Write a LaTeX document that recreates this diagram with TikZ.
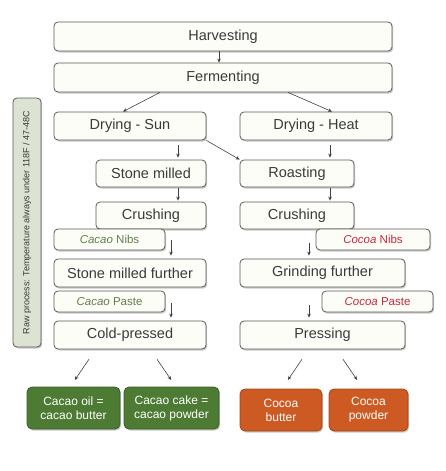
\documentclass[tikz,border=0pt]{standalone}
\usepackage{fontspec}
\setmainfont{Liberation Sans}
\usetikzlibrary{shadows,arrows.meta}
\definecolor{boxline}{HTML}{5A5A55}
\definecolor{boxfill}{HTML}{FDFDF8}
\definecolor{txt}{HTML}{3A3A3A}
\definecolor{grn}{HTML}{4E7B33}
\definecolor{grnline}{HTML}{3B5E27}
\definecolor{org}{HTML}{CC5A22}
\definecolor{orgline}{HTML}{A3461A}
\definecolor{sidefill}{HTML}{DDE3D3}
\definecolor{nibgreen}{HTML}{5E8048}
\definecolor{nibred}{HTML}{C8283A}
\tikzset{
  shad/.style={drop shadow={shadow xshift=1.2pt,shadow yshift=-1.5pt,opacity=0.35,fill=black!60}},
  stepbox/.style={draw=boxline,fill=boxfill,line width=0.8pt,rounded corners=4pt,shad,
    text=txt,font=\fontsize{14.5}{16}\selectfont,inner sep=0pt,align=center},
  labbox/.style={draw=boxline,fill=boxfill,line width=0.8pt,rounded corners=4pt,shad,
    font=\fontsize{11.5}{13}\selectfont,inner sep=0pt,align=center},
  grnbox/.style={draw=grnline,fill=grn,line width=0.8pt,rounded corners=5pt,shad,
    text=white,font=\fontsize{12}{14}\selectfont,inner sep=0pt,align=center},
  orgbox/.style={draw=orgline,fill=org,line width=0.8pt,rounded corners=5pt,shad,
    text=white,font=\fontsize{12}{14}\selectfont,inner sep=0pt,align=center},
  arr/.style={draw=black!75,line width=0.6pt,-{Stealth[length=4pt,width=3.5pt]}},
}
\begin{document}
\begin{tikzpicture}[x=1pt,y=1pt]
\useasboundingbox (0,0) rectangle (445,-471);
% side label
\node[draw=boxline,fill=sidefill,line width=0.8pt,rounded corners=4pt,shad,
  minimum width=28pt,minimum height=249pt,inner sep=0pt] (side) at (27,-222.5)
  {\rotatebox{90}{\fontsize{9}{11}\selectfont\color{txt}Raw process: Temperature always under 118F / 47-48C}};
% main steps
\node[stepbox,minimum width=338pt,minimum height=29pt] (h) at (223,-36.5) {Harvesting};
\node[stepbox,minimum width=338pt,minimum height=29pt] (f) at (223,-77.5) {Fermenting};
\node[stepbox,minimum width=152pt,minimum height=28pt] (ds) at (130,-126) {Drying - Sun};
\node[stepbox,minimum width=152pt,minimum height=28pt] (dh) at (316,-126) {Drying - Heat};
\node[stepbox,minimum width=110pt,minimum height=27pt] (sm) at (151,-173.5) {Stone milled};
\node[stepbox,minimum width=114pt,minimum height=27pt] (ro) at (297,-173.5) {Roasting};
\node[stepbox,minimum width=110pt,minimum height=27pt] (crl) at (151,-215.5) {Crushing};
\node[stepbox,minimum width=114pt,minimum height=27pt] (crr) at (297,-215.5) {Crushing};
\node[labbox,text=nibgreen,minimum width=111pt,minimum height=21pt] (nl) at (109.5,-239.5) {\textit{Cacao} Nibs};
\node[labbox,text=nibred,minimum width=114pt,minimum height=21pt] (nr) at (373,-239.5) {\textit{Cocoa} Nibs};
\node[stepbox,minimum width=152pt,minimum height=28pt] (smf) at (130,-273) {Stone milled further};
\node[stepbox,minimum width=165pt,minimum height=28pt] (gf) at (322.5,-273) {Grinding further};
\node[labbox,text=nibgreen,minimum width=111pt,minimum height=21pt] (pl) at (109.5,-301.5) {\textit{Cacao} Paste};
\node[labbox,text=nibred,minimum width=111pt,minimum height=21pt] (pr2) at (377.5,-301.5) {\textit{Cocoa} Paste};
\node[stepbox,minimum width=152pt,minimum height=28pt] (cp) at (130,-335) {Cold-pressed};
\node[stepbox,minimum width=165pt,minimum height=28pt] (pr) at (322.5,-335) {Pressing};
% products
\node[grnbox,minimum width=93pt,minimum height=42pt] (oil) at (73.5,-408) {Cacao oil =\\cacao butter};
\node[grnbox,minimum width=95pt,minimum height=42pt] (cake) at (171.5,-408) {Cacao cake =\\cacao powder};
\node[orgbox,minimum width=82pt,minimum height=42pt] (cb) at (281,-410) {Cocoa\\butter};
\node[orgbox,minimum width=79pt,minimum height=42pt] (cpw) at (368.5,-410) {Cocoa\\powder};
% connectors
\draw[arr] ([xshift=-4pt]h.south) -- ([xshift=-4pt]f.north);
\draw[arr] ([xshift=-63pt]f.south) -- ([xshift=-7pt]ds.north);
\draw[arr] ([xshift=65pt]f.south) -- ([xshift=16pt]dh.north);
\draw[arr] (ds.south east) -- (ro.north west);
\draw[arr,shorten <=5pt,shorten >=2pt] ([xshift=48pt]ds.south) -- ([xshift=27pt]sm.north);
\draw[arr,shorten <=5pt,shorten >=2pt] ([xshift=14pt]dh.south) -- ([xshift=33pt]ro.north);
\draw[arr,shorten <=1pt,shorten >=1pt] ([xshift=27pt]sm.south) -- ([xshift=27pt]crl.north);
\draw[arr,shorten <=1pt,shorten >=1pt] ([xshift=33pt]ro.south) -- ([xshift=33pt]crr.north);
\draw[arr,shorten <=11pt,shorten >=3pt] ([xshift=20pt]crl.south) -- ([xshift=41pt]smf.north);
\draw[arr,shorten <=14pt,shorten >=3pt] ([xshift=12pt]crr.south) -- ([xshift=-13.5pt]gf.north);
\draw[arr,shorten <=16pt,shorten >=3pt] ([xshift=41pt]smf.south) -- ([xshift=41pt]cp.north);
\draw[arr,shorten <=18pt,shorten >=3pt] ([xshift=-13.5pt]gf.south) -- ([xshift=-13.5pt]pr.north);
\draw[arr,shorten <=12pt,shorten >=8pt] ([xshift=-34.3pt]cp.south) -- ([xshift=-3.2pt]oil.north);
\draw[arr,shorten <=12pt,shorten >=8pt] ([xshift=20.3pt]cp.south) -- ([xshift=4.2pt]cake.north);
\draw[arr,shorten <=12pt,shorten >=10.5pt] ([xshift=-13.8pt]pr.south) -- ([xshift=1pt]cb.north);
\draw[arr,shorten <=12pt,shorten >=10.5pt] ([xshift=13.8pt]pr.south) -- ([xshift=-5.5pt]cpw.north);
\end{tikzpicture}
\end{document}
